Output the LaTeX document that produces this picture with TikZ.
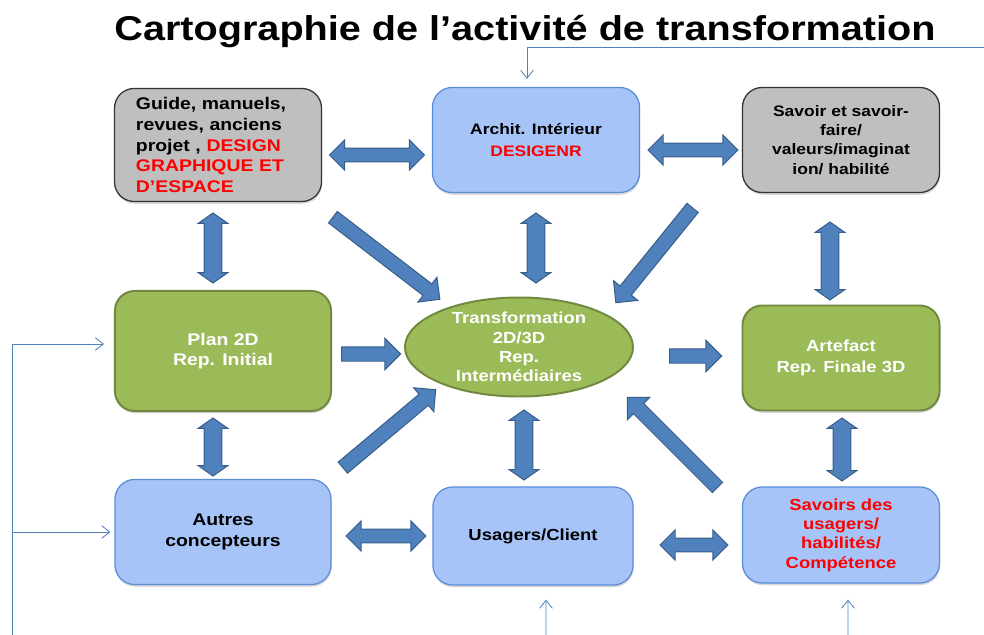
\documentclass[tikz,border=0pt]{standalone}
\usepackage{fontspec}
\setmainfont{Liberation Sans}[FakeStretch=1.15]
\usetikzlibrary{arrows.meta,positioning,calc,shapes.geometric,shapes.arrows,shadows}

\definecolor{boxgray}{HTML}{BFBFBF}
\definecolor{boxblue}{HTML}{A6C4F8}
\definecolor{edgeblue}{HTML}{5B8DD6}
\definecolor{boxgreen}{HTML}{9BBB59}
\definecolor{edgegreen}{HTML}{71893F}
\definecolor{arrowblue}{HTML}{4F81BD}
\definecolor{arrowedge}{HTML}{385D8A}
\definecolor{feedblue}{HTML}{4F81BD}

\begin{document}
\begin{tikzpicture}[
    x=0.025cm, y=-0.025cm,
    box/.style={draw, rounded corners=14pt, align=center, line width=0.9pt,
      font=\fontsize{11.4}{14.5}\selectfont\bfseries,
      drop shadow={shadow xshift=0.4pt, shadow yshift=-1.6pt, opacity=0.3}},
    greybox/.style={box, fill=boxgray, draw=black!80},
    bluebox/.style={box, fill=boxblue, draw=edgeblue},
    greenbox/.style={box, fill=boxgreen, draw=edgegreen, line width=1.4pt, text=white},
    fat/.style={draw=arrowedge, fill=arrowblue, line width=0.7pt, minimum width=0pt},
    hdbl/.style={fat, double arrow, inner sep=4.6pt, double arrow head extend=5.8pt},
    vdbl/.style={fat, double arrow, inner sep=6pt, double arrow head extend=4.2pt, double arrow tip angle=110, rotate=90},
    sgl/.style={fat, single arrow, inner sep=4.8pt, single arrow head extend=6pt},
    feed/.style={draw=feedblue, line width=0.6pt, -{Straight Barb[length=2mm,width=3.2mm]}}
  ]
    \useasboundingbox (0,0) rectangle (984,635);

    \node[font=\fontsize{24.5}{30}\selectfont\bfseries, anchor=base] (title) at (525,41) {Cartographie de l’activité de transformation};

    % boxes
    \node[greybox, minimum width=5.175cm, minimum height=2.825cm, text width=4.1cm, align=left,
      font=\fontsize{12}{14.9}\selectfont\bfseries] (guide) at (218,145)
      {Guide, manuels,\\revues, anciens\\projet , \textcolor{red}{DESIGN}\\\textcolor{red}{GRAPHIQUE ET}\\\textcolor{red}{D’ESPACE}};
    \node[bluebox, minimum width=5.175cm, minimum height=2.625cm,
      font=\fontsize{10.8}{15.5}\selectfont\bfseries] (archi) at (536,140)
      {Archit. Intérieur\\\textcolor{red}{DESIGENR}};
    \node[greybox, minimum width=4.925cm, minimum height=2.625cm,
      font=\fontsize{10.8}{13.7}\selectfont\bfseries] (savoir) at (841,140)
      {Savoir et savoir-\\faire/\\valeurs/imaginat\\ion/ habilité};
    \node[greenbox, minimum width=5.4cm, minimum height=3cm,
      font=\fontsize{12}{14}\selectfont\bfseries] (plan) at (223,351) {Plan 2D\\Rep. Initial};
    \node[ellipse, draw=edgegreen, fill=boxgreen, line width=1.4pt, text=white, align=center,
      minimum width=5.7cm, minimum height=2.475cm, inner xsep=0pt, inner ysep=-3pt,
      font=\fontsize{11.4}{13.7}\selectfont\bfseries] (transf) at (519,347)
      {Transformation\\2D/3D\\Rep.\\Intermédiaires};
    \node[greenbox, minimum width=4.925cm, minimum height=2.625cm] (artefact) at (841,358) {Artefact\\Rep. Finale 3D};
    \node[bluebox, minimum width=5.4cm, minimum height=2.625cm,
      font=\fontsize{12}{14.5}\selectfont\bfseries] (autres) at (223,532) {Autres\\concepteurs};
    \node[bluebox, minimum width=5cm, minimum height=2.45cm] (usagers) at (533,536) {Usagers/Client};
    \node[bluebox, minimum width=4.925cm, minimum height=2.4cm, text=red,
      font=\fontsize{11.4}{13.7}\selectfont\bfseries] (savoirsus) at (841,535)
      {Savoirs des\\usagers/\\habilités/\\Compétence};

    % fat double arrows
    \node[hdbl, minimum height=2.375cm] (guide-archi) at (377,155) {};
    \node[hdbl, minimum height=2.25cm] (archi-savoir) at (693,150) {};
    \node[hdbl, minimum height=2cm] (autres-usagers) at (386,536) {};
    \node[hdbl, minimum height=1.7cm] (usagers-savoirsus) at (694,545) {};
    \node[vdbl, minimum height=1.75cm] (guide-plan) at (213,248) {};
    \node[vdbl, minimum height=1.75cm] (archi-transf) at (536,248) {};
    \node[vdbl, minimum height=1.95cm] (savoir-artefact) at (830,261) {};
    \node[vdbl, minimum height=1.45cm] (plan-autres) at (213,447) {};
    \node[vdbl, minimum height=1.75cm] (transf-usagers) at (524,445) {};
    \node[vdbl, minimum height=1.575cm] (artefact-savoirsus) at (842,449.5) {};

    % fat single arrows
    \node[sgl, minimum height=1.475cm] (plan-transf) at (367.5,354) {};
    \node[sgl, minimum height=1.3cm] (transf-artefact) at (692,356) {};
    \node[sgl, minimum height=3.37cm, rotate=-37.5] (guide-transf) at (383.5,256) {};
    \node[sgl, minimum height=3.05cm, rotate=-129] (savoir-transf) at (656.5,252.5) {};
    \node[sgl, minimum height=3.03cm, rotate=40] (autres-transf) at (386.5,431) {};
    \node[sgl, minimum height=3.18cm, rotate=135] (savoirsus-transf) at (675,445) {};

    % thin feed lines
    \coordinate (topfeed) at (984,47);
    \coordinate (leftfeed) at (12,635);
    \coordinate (usfeed) at (546,635);
    \coordinate (sufeed) at (848,635);
    \draw[feed] (topfeed) -| ([xshift=-0.225cm, yshift=0.2cm]archi.north);
    \draw[feed] (leftfeed) |- ([xshift=-0.25cm, yshift=0.175cm]plan.west);
    \draw[feed] (leftfeed |- autres.west) -- ([xshift=-0.1cm]autres.west);
    \draw[feed] (usfeed) -- ([xshift=0.325cm, yshift=-0.35cm]usagers.south);
    \draw[feed] (sufeed) -- ([xshift=0.175cm, yshift=-0.4cm]savoirsus.south);
\end{tikzpicture}
\end{document}
